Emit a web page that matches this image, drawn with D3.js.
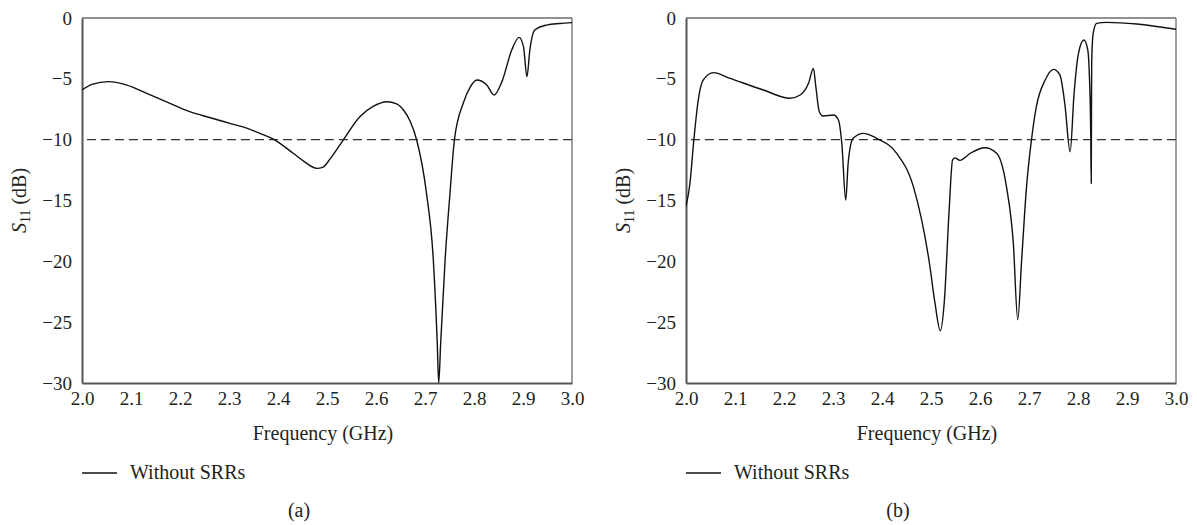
<!DOCTYPE html>
<html>
<head>
<meta charset="utf-8">
<script src="https://cdn.jsdelivr.net/npm/d3@7"></script>
<style>
  html, body { margin: 0; padding: 0; background: #fff; }
  svg { display: block; }
</style>
</head>
<body>
<svg id="chart" width="1197" height="525"></svg>
<script>
// ---- Data ----
const xTicks = [2.0, 2.1, 2.2, 2.3, 2.4, 2.5, 2.6, 2.7, 2.8, 2.9, 3.0];
const yTicks = [0, -5, -10, -15, -20, -25, -30];
const threshold = -10;

// Panel (a): Without SRRs
const freqA = [2.000, 2.020, 2.054, 2.090, 2.132, 2.176, 2.220, 2.262, 2.302, 2.336, 2.363, 2.394,
  2.431, 2.455, 2.479, 2.492, 2.506, 2.533, 2.567, 2.595, 2.622, 2.642, 2.656, 2.670, 2.683,
  2.703, 2.717, 2.725, 2.728, 2.732, 2.741, 2.751, 2.760, 2.778, 2.792, 2.806, 2.826, 2.841,
  2.857, 2.877, 2.892, 2.901, 2.908, 2.914, 2.924, 2.948, 2.975, 3.000];
const s11A = [-5.92, -5.45, -5.23, -5.50, -6.19, -6.95, -7.70, -8.20, -8.66, -9.05, -9.48, -10.03,
  -11.12, -11.85, -12.36, -12.25, -11.60, -10.03, -8.11, -7.25, -6.88, -7.05, -7.56, -8.50, -10.03,
  -14.40, -19.90, -26.70, -30.00, -26.70, -19.90, -14.40, -10.03, -7.01, -5.70, -5.10, -5.51, -6.33,
  -5.23, -2.63, -1.59, -2.36, -4.82, -2.63, -0.99, -0.58, -0.45, -0.38];

// Panel (b): Without SRRs
const freqB = [2.000, 2.008, 2.016, 2.025, 2.035, 2.056, 2.090, 2.158, 2.212, 2.233, 2.250, 2.260,
  2.265, 2.272, 2.280, 2.301, 2.311, 2.318, 2.326, 2.331, 2.341, 2.362, 2.389, 2.430, 2.464,
  2.497, 2.508, 2.519, 2.527, 2.537, 2.544, 2.549, 2.559, 2.580, 2.610, 2.634, 2.654, 2.668,
  2.677, 2.685, 2.695, 2.705, 2.715, 2.733, 2.750, 2.763, 2.773, 2.784, 2.792, 2.801, 2.812,
  2.820, 2.823, 2.826, 2.827, 2.8275, 2.828, 2.831, 2.838, 2.858, 2.920, 3.000];
const s11B = [-15.5, -13.6, -10.03, -6.74, -5.10, -4.49, -4.96, -5.92, -6.60, -6.33, -5.37, -4.14,
  -5.65, -7.70, -8.05, -7.97, -8.38, -10.3, -14.96, -11.9, -9.89, -9.48, -9.89, -11.12, -13.86,
  -20.2, -23.4, -25.7, -23.4, -15.8, -11.67, -11.5, -11.7, -11.12, -10.66, -11.12, -13.86, -18.5,
  -24.8, -19.9, -13.86, -10.03, -7.29, -5.10, -4.22, -4.68, -7.01, -10.99, -6.19, -2.90, -1.81,
  -2.63, -4.5, -9.5, -13.6, -8.0, -3.5, -1.26, -0.44, -0.36, -0.49, -0.93];

const seriesName = "Without SRRs";
const panelLabels = ["(a)", "(b)"];

// ---- Drawing ----
const FONT = "'Liberation Serif', 'Times New Roman', 'DejaVu Serif', serif";
const svg = d3.select("#chart");
const panels = [
  { left: 82, freq: freqA, s11: s11A, label: panelLabels[0], center: 299 },
  { left: 686, freq: freqB, s11: s11B, label: panelLabels[1], center: 898 }
];
const plotTop = 18, plotH = 365, plotW = 490;
const tickFont = 19, labelFont = 20;
const textColor = "#231f20";

function styleText(sel, size) {
  return sel.style("font-family", FONT).style("font-size", (size || labelFont) + "px").style("fill", textColor);
}

panels.forEach((p, i) => {
  const g = svg.append("g");
  const x = d3.scaleLinear().domain([2.0, 3.0]).range([p.left, p.left + plotW]);
  const y = d3.scaleLinear().domain([-30, 0]).range([plotTop + plotH, plotTop]);

  const clipId = "clip" + i;
  svg.append("clipPath").attr("id", clipId).append("rect")
    .attr("x", p.left).attr("y", plotTop - 2).attr("width", plotW).attr("height", plotH + 2);

  // Frame: top/right thin
  g.append("line").attr("x1", p.left).attr("x2", p.left + plotW).attr("y1", plotTop).attr("y2", plotTop)
    .attr("stroke", "#6d6d6d").attr("stroke-width", 1.3);
  g.append("line").attr("x1", p.left + plotW).attr("x2", p.left + plotW).attr("y1", plotTop).attr("y2", plotTop + plotH)
    .attr("stroke", "#6d6d6d").attr("stroke-width", 1.3);

  // Axes (no tick marks)
  const xAxis = d3.axisBottom(x).tickValues(xTicks).tickFormat(d3.format(".1f")).tickSize(0).tickPadding(9);
  const yAxis = d3.axisLeft(y).tickValues(yTicks).tickFormat(d3.format("d")).tickSize(0).tickPadding(10);

  const gx = g.append("g").attr("transform", `translate(0,${plotTop + plotH})`).call(xAxis);
  const gy = g.append("g").attr("transform", `translate(${p.left},0)`).call(yAxis);
  [gx, gy].forEach(a => {
    a.attr("font-family", null).attr("font-size", null);
    a.select(".domain").attr("stroke", "#555").attr("stroke-width", 2);
    styleText(a.selectAll("text"), tickFont);
  });

  // Threshold dashed line
  g.append("line")
    .attr("x1", x(2.01)).attr("x2", x(3.0))
    .attr("y1", y(threshold)).attr("y2", y(threshold))
    .attr("stroke", "#333").attr("stroke-width", 1.4)
    .attr("stroke-dasharray", "9,5");

  // Curve
  const data = p.freq.map((f, k) => [f, p.s11[k]]);
  const line = d3.line().x(d => x(d[0])).y(d => y(d[1])).curve(d3.curveMonotoneX);
  g.append("path").datum(data)
    .attr("clip-path", `url(#${clipId})`)
    .attr("fill", "none").attr("stroke", "#111").attr("stroke-width", 1.4)
    .attr("stroke-linejoin", "round")
    .attr("d", line);

  // Y label
  const yl = styleText(g.append("text"))
    .attr("transform", `translate(${p.left - 56},${plotTop + plotH / 2}) rotate(-90)`)
    .attr("text-anchor", "middle");
  yl.append("tspan").style("font-style", "italic").text("S");
  yl.append("tspan").style("font-size", "14px").attr("dy", 4).text("11");
  yl.append("tspan").attr("dy", -4).text(" (dB)");

  // X label
  styleText(g.append("text")).attr("x", p.left + plotW / 2 - 4).attr("y", 440)
    .attr("text-anchor", "middle").text("Frequency (GHz)");

  // Legend
  g.append("line").attr("x1", p.left).attr("x2", p.left + 35).attr("y1", 473).attr("y2", 473)
    .attr("stroke", "#111").attr("stroke-width", 1.4);
  styleText(g.append("text")).attr("x", p.left + 48).attr("y", 479).text(seriesName);

  // Panel label
  styleText(g.append("text")).attr("x", p.center).attr("y", 517).attr("text-anchor", "middle")
    .text(p.label);
});
</script>
</body>
</html>
